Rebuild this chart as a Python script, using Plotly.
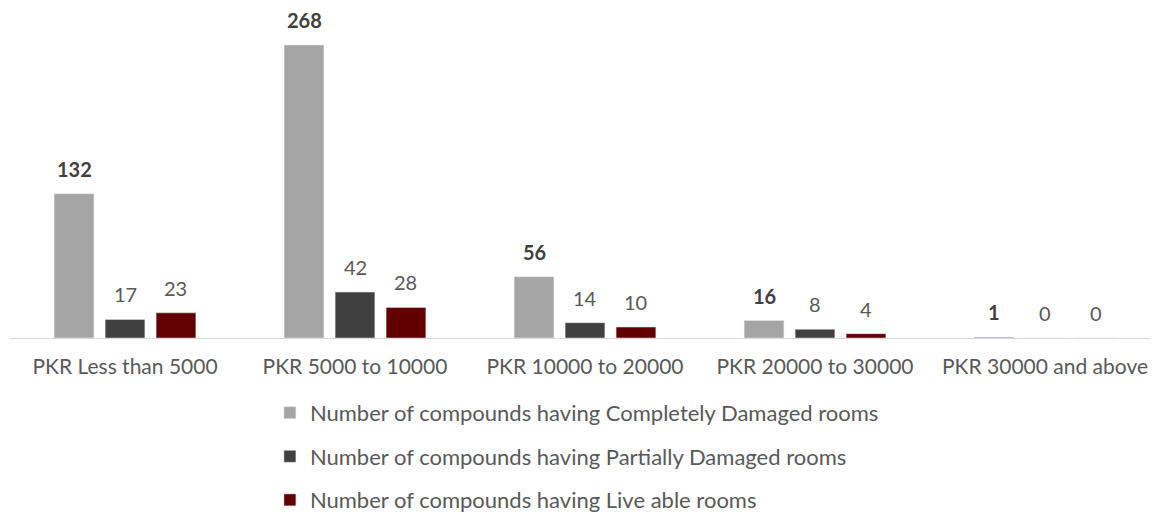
import plotly.graph_objects as go

categories = ["PKR Less than 5000", "PKR 5000 to 10000", "PKR 10000 to 20000",
              "PKR 20000 to 30000", "PKR 30000 and above"]
completely = [132, 268, 56, 16, 1]
partially = [17, 42, 14, 8, 0]
liveable = [23, 28, 10, 4, 0]

names = ["Number of compounds having Completely Damaged rooms",
         "Number of compounds having Partially Damaged rooms",
         "Number of compounds having Live able rooms"]
colors = ["#A5A5A5", "#404040", "#600000"]
series = [completely, partially, liveable]

fig = go.Figure()
for i, (vals, name, col) in enumerate(zip(series, names, colors)):
    fig.add_trace(go.Bar(
        x=categories, y=vals, name=name, marker_color=col,
        legendgroup=str(i), hoverinfo="x+y+name",
    ))

# data labels, placed above each bar (offset by slot within the group)
slot = 1150 / 5 * 0.665 / 3
for i, vals in enumerate(series):
    bold = i == 0
    for cat, v in zip(categories, vals):
        fig.add_annotation(
            x=cat, y=v, xref="x", yref="y",
            text=f"<b>{v}</b>" if bold else str(v),
            showarrow=False, yanchor="bottom", yshift=11,
            xshift=(i - 1) * slot,
            font=dict(size=20, color="#404040" if bold else "#595959"),
        )

fig.update_layout(
    width=1152, height=507,
    barmode="group", bargap=0.335, bargroupgap=0.22,
    plot_bgcolor="white", paper_bgcolor="white",
    font=dict(family="Lato, Open Sans, sans-serif", size=20, color="#595959"),
    margin=dict(l=2, r=0, t=13, b=177, autoexpand=False),
    xaxis=dict(showline=True, linecolor="#D9D9D9", linewidth=1,
               ticks="outside", ticklen=10, tickcolor="rgba(0,0,0,0)",
               tickfont=dict(size=21, color="#595959"), automargin=False),
    yaxis=dict(range=[0, 290], visible=False),
    legend=dict(orientation="v", x=0.226, xanchor="left", y=-0.17, yanchor="top",
                font=dict(size=22, color="#595959"), tracegroupgap=12),
    showlegend=True,
)

fig.write_html("out.html")
